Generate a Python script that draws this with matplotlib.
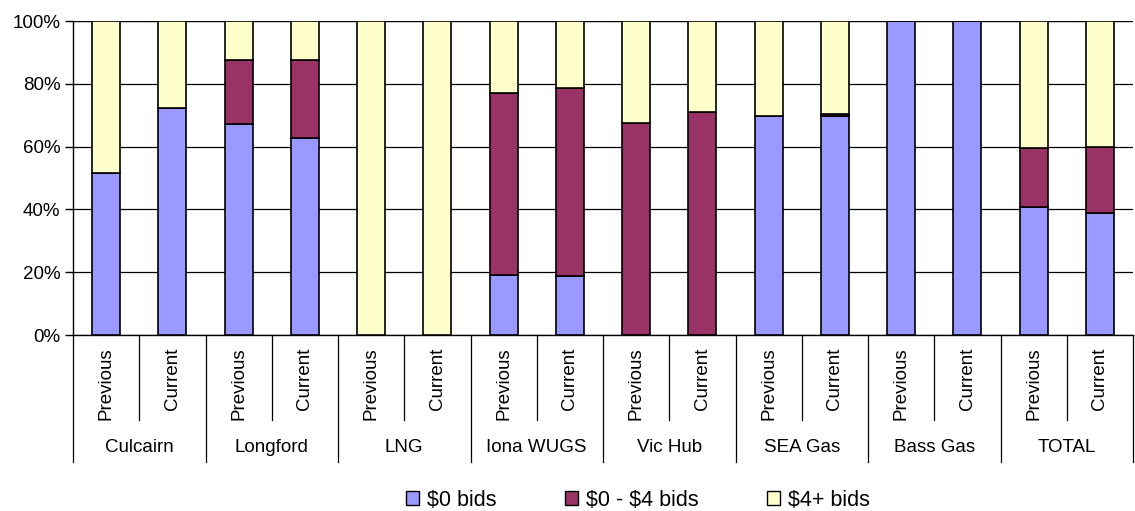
import matplotlib.pyplot as plt
from matplotlib.patches import Patch
from matplotlib.transforms import blended_transform_factory

plt.rcParams["font.family"] = ["Liberation Sans", "DejaVu Sans"]

GROUPS = ["Culcairn", "Longford", "LNG", "Iona WUGS", "Vic Hub",
          "SEA Gas", "Bass Gas", "TOTAL"]
PERIODS = ["Previous", "Current"]
SERIES = [r"\$0 bids", r"\$0 - \$4 bids", r"\$4+ bids"]
COLORS = ["#9999FF", "#993366", "#FFFFCC"]

# shares in %, order: Culcairn P/C, Longford P/C, ... TOTAL P/C
zero_bids = [51.6, 72.2, 67.1, 62.7, 0, 0, 19.2, 18.7,
             0, 0, 69.8, 69.8, 100, 100, 40.9, 38.8]
low_bids = [0, 0, 20.5, 24.9, 0, 0, 58.0, 60.1,
            67.6, 71.0, 0, 0.7, 0, 0, 18.5, 21.1]
high_bids = [100 - a - b for a, b in zip(zero_bids, low_bids)]

fig = plt.figure(figsize=(11.35, 5.11), dpi=100)
ax = fig.add_axes([73 / 1135, 1 - 335 / 511, 1060 / 1135, 314 / 511])

n = len(zero_bids)
x = list(range(n))
bottom = [0.0] * n
for vals, col, name in zip([zero_bids, low_bids, high_bids], COLORS, SERIES):
    ax.bar(x, vals, width=0.42, bottom=bottom, color=col,
           edgecolor="black", linewidth=1.2, label=name, zorder=3)
    bottom = [b + v for b, v in zip(bottom, vals)]

ax.set_xlim(-0.5, n - 0.5)
ax.set_ylim(0, 100)
ax.set_yticks(range(0, 101, 20))
ax.set_yticklabels([f"{v}%" for v in range(0, 101, 20)], fontsize=13.5)
ax.tick_params(axis="y", length=6, width=1, pad=3)
ax.yaxis.grid(True, color="black", linewidth=0.9, zorder=0)
ax.set_xticks([])
for s in ["top", "right"]:
    ax.spines[s].set_visible(False)
ax.spines["left"].set_linewidth(1)
ax.spines["bottom"].set_linewidth(1)
ax.axhline(100, color="#888888", linewidth=1, zorder=1)

tr = blended_transform_factory(ax.transData, ax.transAxes)
# category labels and separators
for i in range(n):
    ax.text(i, -0.04, PERIODS[i % 2], rotation=90, ha="center", va="top",
            fontsize=13.5, transform=tr)
for i in range(n + 1):
    y_end = -0.404 if i % 2 == 0 else -0.27
    ax.plot([i - 0.5, i - 0.5], [0, y_end], color="black", linewidth=0.9,
            transform=tr, clip_on=False)
for g, name in enumerate(GROUPS):
    ax.text(2 * g + 0.5, -0.357, name, ha="center", va="center",
            fontsize=13.5, transform=tr)

handles = [Patch(facecolor=c, edgecolor="black", linewidth=1) for c in COLORS]
fig.legend(handles, SERIES, loc="center", bbox_to_anchor=(638 / 1135, 1 - 500 / 511),
           ncol=3, frameon=False, fontsize=15.5, handlelength=0.6,
           handleheight=0.6, handletextpad=0.35, columnspacing=3.2)

fig.savefig("out.png", dpi=100)
